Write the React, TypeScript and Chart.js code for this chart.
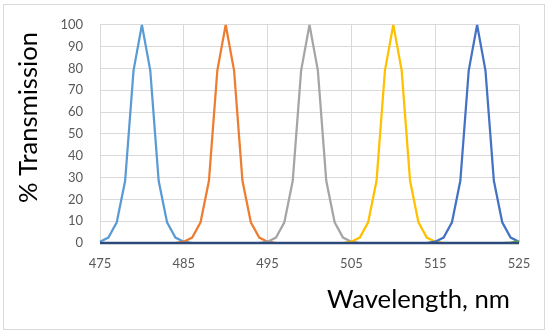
import React, { useEffect, useRef } from "react";
import { Chart, registerables } from "chart.js";

Chart.register(...registerables);

const wavelengths = [
  475, 476, 477, 478, 479, 480, 481, 482, 483, 484,
  485, 486, 487, 488, 489, 490, 491, 492, 493, 494,
  495, 496, 497, 498, 499, 500, 501, 502, 503, 504,
  505, 506, 507, 508, 509, 510, 511, 512, 513, 514,
  515, 516, 517, 518, 519, 520, 521, 522, 523, 524, 525,
];

const filter480 = [
  0.6, 2.5, 9.5, 28.5, 79, 100, 79, 28.5, 9.5, 2.5,
  0.6, 0, 0, 0, 0, 0, 0, 0, 0, 0,
  0, 0, 0, 0, 0, 0, 0, 0, 0, 0,
  0, 0, 0, 0, 0, 0, 0, 0, 0, 0,
  0, 0, 0, 0, 0, 0, 0, 0, 0, 0, 0,
];
const filter490 = [
  0, 0, 0, 0, 0, 0, 0, 0, 0, 0,
  0.6, 2.5, 9.5, 28.5, 79, 100, 79, 28.5, 9.5, 2.5,
  0.6, 0, 0, 0, 0, 0, 0, 0, 0, 0,
  0, 0, 0, 0, 0, 0, 0, 0, 0, 0,
  0, 0, 0, 0, 0, 0, 0, 0, 0, 0, 0,
];
const filter500 = [
  0, 0, 0, 0, 0, 0, 0, 0, 0, 0,
  0, 0, 0, 0, 0, 0, 0, 0, 0, 0,
  0.6, 2.5, 9.5, 28.5, 79, 100, 79, 28.5, 9.5, 2.5,
  0.6, 0, 0, 0, 0, 0, 0, 0, 0, 0,
  0, 0, 0, 0, 0, 0, 0, 0, 0, 0, 0,
];
const filter510 = [
  0, 0, 0, 0, 0, 0, 0, 0, 0, 0,
  0, 0, 0, 0, 0, 0, 0, 0, 0, 0,
  0, 0, 0, 0, 0, 0, 0, 0, 0, 0,
  0.6, 2.5, 9.5, 28.5, 79, 100, 79, 28.5, 9.5, 2.5,
  0.6, 0, 0, 0, 0, 0, 0, 0, 0, 0, 0,
];
const filter520 = [
  0, 0, 0, 0, 0, 0, 0, 0, 0, 0,
  0, 0, 0, 0, 0, 0, 0, 0, 0, 0,
  0, 0, 0, 0, 0, 0, 0, 0, 0, 0,
  0, 0, 0, 0, 0, 0, 0, 0, 0, 0,
  0.6, 2.5, 9.5, 28.5, 79, 100, 79, 28.5, 9.5, 2.5, 0.6,
];
const filter530 = [
  null, null, null, null, null, null, null, null, null, null,
  null, null, null, null, null, null, null, null, null, null,
  null, null, null, null, null, null, null, null, null, null,
  null, null, null, null, null, null, null, null, null, null,
  null, null, null, null, null, null, null, null, 0, 0.2, 0.8,
];

const seriesNames = ["480 nm", "490 nm", "500 nm", "510 nm", "520 nm", "530 nm"];
const seriesValues = [filter480, filter490, filter500, filter510, filter520, filter530];
const seriesColors = ["#5B9BD5", "#ED7D31", "#A5A5A5", "#FFC000", "#4472C4", "#70AD47"];
const drawOrder = [5, 4, 3, 2, 1, 0];

const yTitle = "% Transmission";
const xTitle = "Wavelength, nm";
const FONT = "Lato, 'Liberation Sans', sans-serif";

const decorPlugin = {
  id: "decor",
  beforeDraw(chart: any) {
    const ctx = chart.ctx;
    ctx.save();
    ctx.fillStyle = "#FFFFFF";
    ctx.fillRect(0, 0, chart.width, chart.height);
    ctx.restore();
  },
  afterDatasetsDraw(chart: any) {
    const ctx = chart.ctx;
    const a = chart.chartArea;
    const y0 = chart.scales.y.getPixelForValue(0);
    ctx.save();
    ctx.strokeStyle = "#2E4A7A";
    ctx.lineWidth = 2.5;
    ctx.beginPath();
    ctx.moveTo(a.left, y0);
    ctx.lineTo(a.right, y0);
    ctx.stroke();
    ctx.restore();
  },
  afterDraw(chart: any) {
    const ctx = chart.ctx;
    ctx.save();
    ctx.strokeStyle = "#D9D9D9";
    ctx.lineWidth = 1;
    ctx.strokeRect(3.5, 4.5, 541, 325);

    ctx.fillStyle = "#000000";
    ctx.font = `22px ${FONT}`;
    let w = ctx.measureText(yTitle).width;
    let size = (22 * 171) / w;
    ctx.font = `${size}px ${FONT}`;
    ctx.translate(37, 117.5);
    ctx.rotate(-Math.PI / 2);
    ctx.textAlign = "center";
    ctx.textBaseline = "alphabetic";
    ctx.fillText(yTitle, 0, 0);
    ctx.setTransform(1, 0, 0, 1, 0, 0);

    ctx.font = `22px ${FONT}`;
    w = ctx.measureText(xTitle).width;
    size = (22 * 183) / w;
    ctx.font = `${size}px ${FONT}`;
    ctx.textAlign = "left";
    ctx.textBaseline = "alphabetic";
    ctx.fillText(xTitle, 327, 308);
    ctx.restore();
  },
};

export default function App() {
  const ref = useRef<HTMLCanvasElement>(null);

  useEffect(() => {
    document.body.style.margin = "0";
    const canvas = ref.current;
    if (!canvas) return;
    const chart = new Chart(canvas, {
      type: "line",
      data: {
        labels: wavelengths,
        datasets: seriesValues.map((vals, i) => ({
          label: seriesNames[i],
          data: vals,
          borderColor: seriesColors[i],
          backgroundColor: seriesColors[i],
          borderWidth: 2.25,
          pointRadius: 0,
          tension: 0,
          fill: false,
          spanGaps: false,
          order: drawOrder[i],
        })),
      },
      options: {
        responsive: false,
        animation: false,
        events: [],
        layout: { padding: { left: 0, right: 31, top: 22, bottom: 0 } },
        plugins: {
          legend: { display: false },
          tooltip: { enabled: false },
          title: { display: false },
        },
        scales: {
          x: {
            type: "category",
            offset: false,
            grid: {
              color: "#D9D9D9",
              drawTicks: false,
              lineWidth: 1,
            },
            border: { display: false },
            ticks: {
              autoSkip: false,
              maxRotation: 0,
              padding: 13,
              color: "#595959",
              font: { family: FONT, size: 13 },
              callback: (v: any, idx: number) =>
                (wavelengths[idx] - 475) % 10 === 0 ? String(wavelengths[idx]) : null,
            },
            afterFit: (s: any) => {
              s.height = 92;
            },
          },
          y: {
            min: 0,
            max: 100,
            grid: { color: "#D9D9D9", drawTicks: false, lineWidth: 1 },
            border: { display: false },
            ticks: {
              stepSize: 10,
              padding: 17,
              color: "#595959",
              font: { family: FONT, size: 13 },
            },
            afterFit: (s: any) => {
              s.width = 100;
            },
          },
        },
      },
      plugins: [decorPlugin],
    });
    return () => chart.destroy();
  }, []);

  return <canvas ref={ref} width={550} height={335} style={{ display: "block" }} />;
}
